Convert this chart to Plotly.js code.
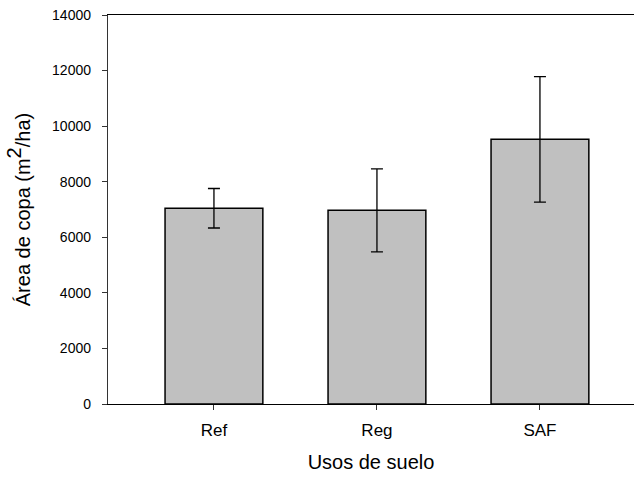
<!DOCTYPE html>
<html>
<head>
<meta charset="utf-8">
<script src="https://cdn.plot.ly/plotly-3.0.1.min.js"></script>
<style>html,body{margin:0;padding:0;background:#fff;}#chart{width:634px;height:477px;}</style>
</head>
<body>
<div id="chart"></div>
<script>
var categories = ["Ref", "Reg", "SAF"];
var values = [7045, 6970, 9525];
var errors = [710, 1495, 2260];
var yTicks = [0, 2000, 4000, 6000, 8000, 10000, 12000, 14000];

var trace = {
  type: "bar",
  x: categories,
  y: values,
  width: 0.6,
  marker: {color: "#c0c0c0", line: {color: "#000", width: 1.5}},
  error_y: {type: "data", array: errors, visible: true, color: "#000", thickness: 1.3, width: 6}
};

var layout = {
  width: 634, height: 477,
  margin: {l: 108, r: 0, t: 15, b: 73},
  paper_bgcolor: "#fff", plot_bgcolor: "#fff",
  font: {family: "Liberation Sans, Arial, sans-serif", color: "#000"},
  showlegend: false,
  xaxis: {
    range: [-0.65, 2.577],
    showline: true, linecolor: "#000", linewidth: 1.2, mirror: true,
    ticks: "outside", ticklen: 5, tickcolor: "#333", tickwidth: 1,
    tickfont: {size: 17}, ticklabelstandoff: 5, showgrid: false, zeroline: false,
    title: {text: "Usos de suelo", font: {size: 20}, standoff: 16}
  },
  yaxis: {
    range: [0, 14000],
    tickvals: yTicks,
    ticktext: yTicks.map(String),
    showline: true, linecolor: "#333", linewidth: 1.2, mirror: false,
    ticks: "outside", ticklen: 5, tickcolor: "#333", tickwidth: 1,
    tickfont: {size: 14}, ticklabelstandoff: 8, showgrid: false, zeroline: false,
    title: {text: "Área de copa (m<sup><span style=\"font-size:20px\">2</span></sup>/ha)", font: {size: 20}, standoff: 16}
  }
};

Plotly.newPlot("chart", [trace], layout, {displayModeBar: false, staticPlot: true});
</script>
</body>
</html>
